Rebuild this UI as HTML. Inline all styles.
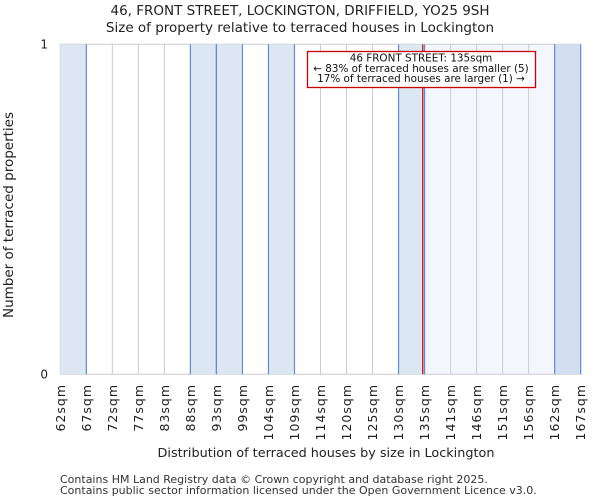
<!DOCTYPE html>
<html><head><meta charset="utf-8"><style>
body{margin:0;background:#fff;font-family:"DejaVu Sans","Liberation Sans",sans-serif;}
</style></head><body>
<svg width="600" height="500" xmlns="http://www.w3.org/2000/svg" font-family="DejaVu Sans, Liberation Sans, sans-serif">
<text x="300" y="15" text-anchor="middle" font-size="13.5" fill="#222">46, FRONT STREET, LOCKINGTON, DRIFFIELD, YO25 9SH</text>
<text x="300" y="32" text-anchor="middle" font-size="13.5" fill="#222">Size of property relative to terraced houses in Lockington</text>
<g id="plot"></g>
<text transform="translate(13,215) rotate(-90)" text-anchor="middle" font-size="13.5" fill="#222">Number of terraced properties</text>
<text x="326" y="457" text-anchor="middle" font-size="12.8" fill="#222">Distribution of terraced houses by size in Lockington</text>
<text x="60" y="483" font-size="11" fill="#333">Contains HM Land Registry data © Crown copyright and database right 2025.</text>
<text x="60" y="494" font-size="11" fill="#333">Contains public sector information licensed under the Open Government Licence v3.0.</text>
</svg>
<script>
const binLabels=["62sqm","67sqm","72sqm","77sqm","83sqm","88sqm","93sqm","99sqm","104sqm","109sqm","114sqm","120sqm","125sqm","130sqm","135sqm","141sqm","146sqm","151sqm","156sqm","162sqm","167sqm"];
const counts=[1,0,0,0,0,1,1,0,1,0,0,0,0,1,0,0,0,0,0,1];
const yTicks=[0,1];
const markerBin=13.93;
const NS="http://www.w3.org/2000/svg";
const g=document.getElementById('plot');
const X0=60.3,X1=580.7,Y0=374.3,Y1=44.3,yMax=1;
const xs=i=>X0+(X1-X0)*i/counts.length;
const ys=v=>Y0-(Y0-Y1)*v/yMax;
function mk(t,a){const e=document.createElementNS(NS,t);for(const k in a)e.setAttribute(k,a[k]);g.appendChild(e);return e;}
let r=mk('rect',{x:xs(markerBin),y:Y1,width:X1-xs(markerBin),height:Y0-Y1,fill:'#f3f6fd'});


binLabels.forEach((l,i)=>{
 const gl=mk('line',{x1:xs(i),x2:xs(i),y1:Y1,y2:Y0,stroke:'#ccc','stroke-width':1});
 
 
 const t=mk('text',{transform:`translate(${xs(i)+4.5},384) rotate(-90)`,'text-anchor':'end','font-size':'12.5','letter-spacing':'1',fill:'#222'});
 t.textContent=l;
 
 
});
mk('line',{x1:X0,x2:X1,y1:Y1,y2:Y1,stroke:'#ccc'});
mk('line',{x1:X0,x2:X1,y1:Y0,y2:Y0,stroke:'#ccc'});
counts.forEach((c,i)=>{
 const x=xs(i),w=xs(i+1)-x,h=Y0-ys(c);
 const b=mk('rect',{x:x,y:ys(c),width:w,height:h,fill:i+0.5>markerBin?'#d3dff1':'#dde6f3'});
 
 
 if(c>0){
  if(i>0) mk('line',{x1:x,x2:x,y1:ys(c),y2:Y0,stroke:'#5b8ed6','stroke-width':1.2});
  mk('line',{x1:x+w,x2:x+w,y1:ys(c),y2:Y0,stroke:'#5b8ed6','stroke-width':1.2});
 }
});
yTicks.forEach(v=>{
 const t=mk('text',{x:48,y:ys(v)+4,'text-anchor':'end','font-size':'12',fill:'#222'});
 t.textContent=v;
 
 
});
const ml=mk('line',{x1:xs(markerBin),x2:xs(markerBin),y1:Y1,y2:Y0,stroke:'#cc0000','stroke-width':1.2});


const box=mk('rect',{x:307.5,y:51.5,width:228,height:36,fill:'#fff',stroke:'#cc0000','stroke-width':1.3});


["46 FRONT STREET: 135sqm","← 83% of terraced houses are smaller (5)","17% of terraced houses are larger (1) →"].forEach((s,k)=>{
 const t=mk('text',{x:421,y:61.5+k*10.3,'text-anchor':'middle','font-size':'10.4',fill:'#111'});
 t.textContent=s;
 
 
});
</script>
</body></html>
